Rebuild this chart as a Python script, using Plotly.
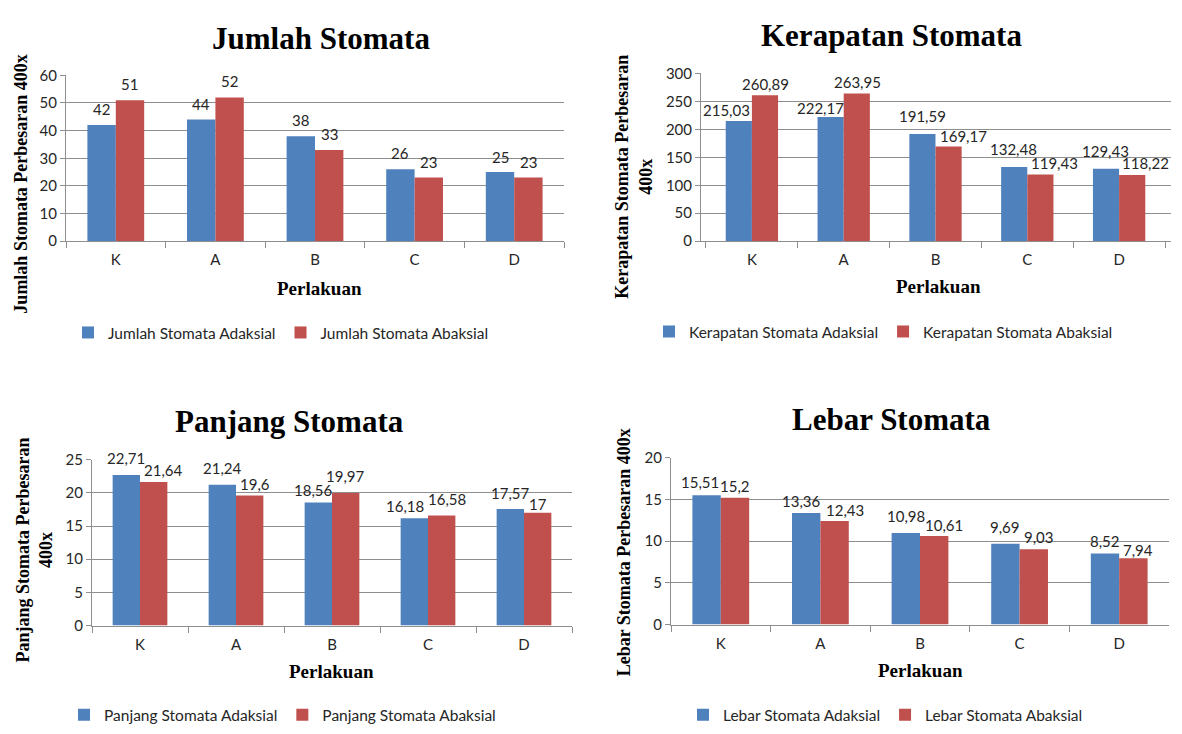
import plotly.graph_objects as go

# Treatment groups (x categories)
perlakuan = ["K", "A", "B", "C", "D"]

# Stomata counts at 400x
jumlah_adaksial = [42, 44, 38, 26, 25]
jumlah_abaksial = [51, 52, 33, 23, 23]

# Stomata density at 400x
kerapatan_adaksial = [215.03, 222.17, 191.59, 132.48, 129.43]
kerapatan_abaksial = [260.89, 263.95, 169.17, 119.43, 118.22]

# Stomata length at 400x
panjang_adaksial = [22.71, 21.24, 18.56, 16.18, 17.57]
panjang_abaksial = [21.64, 19.6, 19.97, 16.58, 17]

# Stomata width at 400x
lebar_adaksial = [15.51, 13.36, 10.98, 9.69, 8.52]
lebar_abaksial = [15.2, 12.43, 10.61, 9.03, 7.94]

W, H = 1182, 734
BLUE = "#4F81BD"
RED = "#C0504D"
GRID = "#8E8E8E"
TXT = "#262626"
SANS = "Lato, 'Open Sans', sans-serif"
SERIF = "'Liberation Serif', 'DejaVu Serif', serif"
BARGAP = 0.43


def fx(x):
    return x / W


def fy(y):
    return 1 - y / H


def label(v):
    return f"{v:g}".replace(".", ",")


# Each panel: geometry in page pixels plus per-label nudges (px) that keep
# neighbouring value labels from colliding.
panels = [
    dict(title="Jumlah Stomata",
         names=("Jumlah Stomata Adaksial", "Jumlah Stomata Abaksial"),
         values=(jumlah_adaksial, jumlah_abaksial),
         ymax=60, dtick=10, box=(66, 564, 67, 237),
         title_xy=(321, 29),
         ytitle="Jumlah Stomata Perbesaran 400x", ytitle_xy=(21, 178),
         xtitle_xy=(319, 285), legend_xy=(108, 331),
         nudge_x=([0, 0, 0, 0, 0], [0, 0, 0, 0, 0]),
         nudge_y=([16, 16, 16, 16, 15], [16, 16, 16, 16, 16])),
    dict(title="Kerapatan Stomata",
         names=("Kerapatan Stomata Adaksial", "Kerapatan Stomata Abaksial"),
         values=(kerapatan_adaksial, kerapatan_abaksial),
         ymax=300, dtick=50, box=(701, 1171, 65, 237),
         title_xy=(891, 26),
         ytitle="Kerapatan Stomata Perbesaran<br>400x", ytitle_xy=(634, 171),
         xtitle_xy=(938, 283), legend_xy=(689, 330),
         nudge_x=([-12, -10, 0, 0, 0], [0, 0, 15, 14, 13]),
         nudge_y=([11, 9, 18, 18, 18], [11, 12, 11, 11, 12])),
    dict(title="Panjang Stomata",
         names=("Panjang Stomata Adaksial", "Panjang Stomata Abaksial"),
         values=(panjang_adaksial, panjang_abaksial),
         ymax=25, dtick=5, box=(92, 572, 461, 631),
         title_xy=(289, 422),
         ytitle="Panjang Stomata Perbesaran<br>400x", ytitle_xy=(34, 554),
         xtitle_xy=(332, 678), legend_xy=(104, 723),
         nudge_x=([0, 0, -5, -9, 0], [10, 5, 0, 5, 0]),
         nudge_y=([17, 17, 12, 12, 16], [12, 12, 17, 17, 9])),
    dict(title="Lebar Stomata",
         names=("Lebar Stomata Adaksial", "Lebar Stomata Abaksial"),
         values=(lebar_adaksial, lebar_abaksial),
         ymax=20, dtick=5, box=(671, 1169, 459, 630),
         title_xy=(891, 420),
         ytitle="Lebar Stomata Perbesaran 400x", ytitle_xy=(624, 556),
         xtitle_xy=(921, 677), legend_xy=(723, 723),
         nudge_x=([-7, -5, 0, 0, 0], [0, 10, 10, 5, 5]),
         nudge_y=([13, 12, 17, 17, 12], [12, 11, 11, 12, 8])),
]

fig = go.Figure()
layout = dict(annotations=[])

for i, p in enumerate(panels, start=1):
    sfx = "" if i == 1 else str(i)
    lg = "legend" if i == 1 else f"legend{i}"
    x0, x1, y0, y1 = p["box"]

    # half a bar width in pixels: centre of each bar relative to its category
    cat_w = (x1 - x0) / len(perlakuan)
    half = cat_w * (1 - BARGAP) / 4

    for k, (name, vals, color) in enumerate(zip(p["names"], p["values"], (BLUE, RED))):
        fig.add_trace(go.Bar(
            x=perlakuan, y=vals, name=name,
            marker=dict(color=color, line=dict(width=0)),
            xaxis=f"x{sfx}", yaxis=f"y{sfx}", legend=lg,
        ))
        side = -half if k == 0 else half
        for cat, v, nx, ny in zip(perlakuan, vals, p["nudge_x"][k], p["nudge_y"][k]):
            layout["annotations"].append(dict(
                text=label(v), x=cat, y=v, xref=f"x{sfx}", yref=f"y{sfx}",
                xanchor="center", yanchor="middle", showarrow=False,
                xshift=side + nx, yshift=ny,
                font=dict(family=SANS, size=15, color=TXT),
            ))

    layout[f"xaxis{sfx}"] = dict(
        domain=[fx(x0), fx(x1)], anchor=f"y{sfx}",
        type="category", tickson="boundaries",
        ticks="outside", ticklen=6, tickcolor=GRID,
        showline=True, linecolor=GRID, linewidth=1,
        showgrid=False, ticklabelstandoff=5,
        tickfont=dict(family=SANS, size=15, color=TXT),
    )
    layout[f"yaxis{sfx}"] = dict(
        domain=[fy(y1), fy(y0)], anchor=f"x{sfx}",
        range=[0, p["ymax"]], dtick=p["dtick"], tick0=0,
        ticks="outside", ticklen=5, tickcolor=GRID,
        showline=True, linecolor=GRID, linewidth=1,
        showgrid=True, gridcolor=GRID, gridwidth=1, zeroline=False,
        tickfont=dict(family=SANS, size=15, color=TXT),
    )
    layout[lg] = dict(
        orientation="h", x=fx(p["legend_xy"][0] - 40), xanchor="left",
        y=fy(p["legend_xy"][1]), yanchor="middle",
        font=dict(family=SANS, size=15.5, color=TXT),
        bgcolor="rgba(0,0,0,0)", traceorder="normal",
    )

    layout["annotations"] += [
        dict(text=f"<b>{p['title']}</b>", xref="paper", yref="paper",
             x=fx(p["title_xy"][0]), y=fy(p["title_xy"][1]),
             xanchor="center", yanchor="middle", showarrow=False,
             font=dict(family=SERIF, size=31, color="#000000")),
        dict(text=f"<b>{p['ytitle']}</b>", xref="paper", yref="paper",
             x=fx(p["ytitle_xy"][0]), y=fy(p["ytitle_xy"][1]),
             xanchor="center", yanchor="middle", showarrow=False,
             textangle=-90,
             font=dict(family=SERIF, size=18, color="#000000")),
        dict(text="<b>Perlakuan</b>", xref="paper", yref="paper",
             x=fx(p["xtitle_xy"][0]), y=fy(p["xtitle_xy"][1]),
             xanchor="center", yanchor="middle", showarrow=False,
             font=dict(family=SERIF, size=19, color="#000000")),
    ]

fig.update_layout(
    width=W, height=H,
    margin=dict(l=0, r=0, t=0, b=0),
    paper_bgcolor="white", plot_bgcolor="white",
    barmode="group", bargap=BARGAP, bargroupgap=0,
    **layout,
)

fig.write_html("out.html")
